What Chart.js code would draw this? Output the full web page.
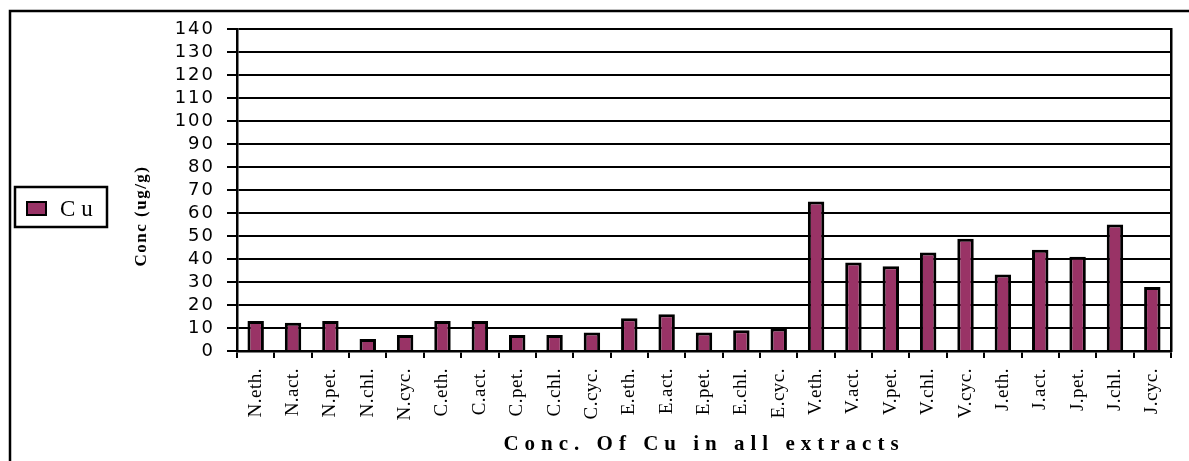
<!DOCTYPE html>
<html>
<head>
<meta charset="utf-8">
<script src="https://cdn.jsdelivr.net/npm/chart.js@4/dist/chart.umd.min.js"></script>
<style>
  html, body { margin: 0; padding: 0; background: #fff; }
</style>
</head>
<body>
<canvas id="cuChart" width="1189" height="461"></canvas>
<script>
// values (ug/g)
const categories = ['N.eth.', 'N.act.', 'N.pet.', 'N.chl.', 'N.cyc.',
    'C.eth.', 'C.act.', 'C.pet.', 'C.chl.', 'C.cyc.',
    'E.eth.', 'E.act.', 'E.pet.', 'E.chl.', 'E.cyc.',
    'V.eth.', 'V.act.', 'V.pet.', 'V.chl.', 'V.cyc.',
    'J.eth.', 'J.act.', 'J.pet.', 'J.chl.', 'J.cyc.'];
const cuValues = [13, 12.3, 13, 5.2, 7,
    13, 13, 7, 7, 8,
    14.2, 16, 8, 9, 9.8,
    65, 38.5, 36.8, 42.8, 48.8,
    33.3, 44, 41, 55, 27.8];
const seriesName = 'Cu';
const yMax = 140;
const yStep = 10;
const yTitle = 'Conc (ug/g)';
const xTitle = 'Conc. Of Cu in all extracts';

const barColor = '#993366';
const serif = '"Liberation Serif", "Times New Roman", serif';

// the old picture has widely spaced letters; canvas letterSpacing by font size
const spacingBySize = { '21': '6px', '19': '0.5px', '18': '2px', '23': '6px', '17': '1.5px' };
function addLetterSpacing(ctx) {
    const fill = ctx.fillText;
    const measure = ctx.measureText;
    const pick = function(c) {
        const m = /(\d+)px/.exec(c.font);
        c.letterSpacing = (m && spacingBySize[m[1]]) || '0px';
    };
    ctx.fillText = function() { pick(this); return fill.apply(this, arguments); };
    ctx.measureText = function() { pick(this); return measure.apply(this, arguments); };
}

// frame, legend box and the rotated y title
const extras = {
    id: 'extras',
    afterDraw(chart) {
        const ctx = chart.ctx;
        const ds = chart.data.datasets[0];
        ctx.save();
        ctx.strokeStyle = '#000';
        ctx.lineWidth = 2.5;
        ctx.beginPath();
        ctx.moveTo(10, 470);
        ctx.lineTo(10, 11);
        ctx.lineTo(1200, 11);
        ctx.stroke();

        // legend
        ctx.strokeRect(15, 187, 92, 40);
        ctx.fillStyle = ds.backgroundColor;
        ctx.fillRect(27, 202, 19, 13);
        ctx.lineWidth = 2;
        ctx.strokeRect(27, 202, 19, 13);
        ctx.fillStyle = '#000';
        ctx.font = '23px ' + serif;
        ctx.textBaseline = 'alphabetic';
        ctx.textAlign = 'left';
        ctx.fillText(ds.label, 60, 216);

        // y axis title
        ctx.translate(142, 216);
        ctx.rotate(-Math.PI / 2);
        ctx.font = 'bold 17px ' + serif;
        ctx.textAlign = 'center';
        ctx.textBaseline = 'middle';
        ctx.fillText(yTitle, 0, 0);
        ctx.restore();
    }
};

const canvas = document.getElementById('cuChart');
const ctx = canvas.getContext('2d');
addLetterSpacing(ctx);

new Chart(ctx, {
    type: 'bar',
    data: {
        labels: categories,
        datasets: [{
            label: seriesName,
            data: cuValues,
            backgroundColor: barColor,
            borderColor: '#000',
            borderWidth: 3,
            barPercentage: 0.44,
            categoryPercentage: 1
        }]
    },
    plugins: [extras],
    options: {
        responsive: false,
        animation: false,
        devicePixelRatio: 1,
        layout: { padding: { left: 0, top: 29, right: 18, bottom: 0 } },
        plugins: {
            legend: { display: false },
            tooltip: { enabled: false }
        },
        scales: {
            x: {
                grid: {
                    display: true,
                    drawOnChartArea: false,
                    drawTicks: true,
                    tickLength: 7,
                    color: '#000',
                    lineWidth: 2,
                    offset: true
                },
                border: { display: true, color: '#000', width: 2.5 },
                ticks: {
                    minRotation: 90,
                    maxRotation: 90,
                    autoSkip: false,
                    padding: 10,
                    color: '#000',
                    font: { family: serif, size: 19 }
                },
                title: {
                    display: true,
                    text: xTitle,
                    color: '#000',
                    padding: { top: 0, bottom: 4 },
                    font: { family: serif, size: 21, weight: 'bold' }
                },
                afterFit: function(scale) { scale.height = 110; }
            },
            y: {
                min: 0,
                max: yMax,
                grid: {
                    color: '#000',
                    lineWidth: 2,
                    tickLength: 10,
                    drawTicks: true
                },
                border: { display: true, color: '#000', width: 2.5 },
                ticks: {
                    stepSize: yStep,
                    autoSkip: false,
                    padding: 12,
                    color: '#000',
                    font: { family: '"DejaVu Sans", Verdana, sans-serif', size: 18 }
                },
                afterFit: function(scale) { scale.width = 237; }
            },
            y2: {
                position: 'right',
                min: 0,
                max: yMax,
                grid: { display: false },
                ticks: { display: false },
                border: { display: true, color: '#000', width: 2.5 },
                afterFit: function(scale) { scale.width = 0; }
            }
        }
    }
});
</script>
</body>
</html>
